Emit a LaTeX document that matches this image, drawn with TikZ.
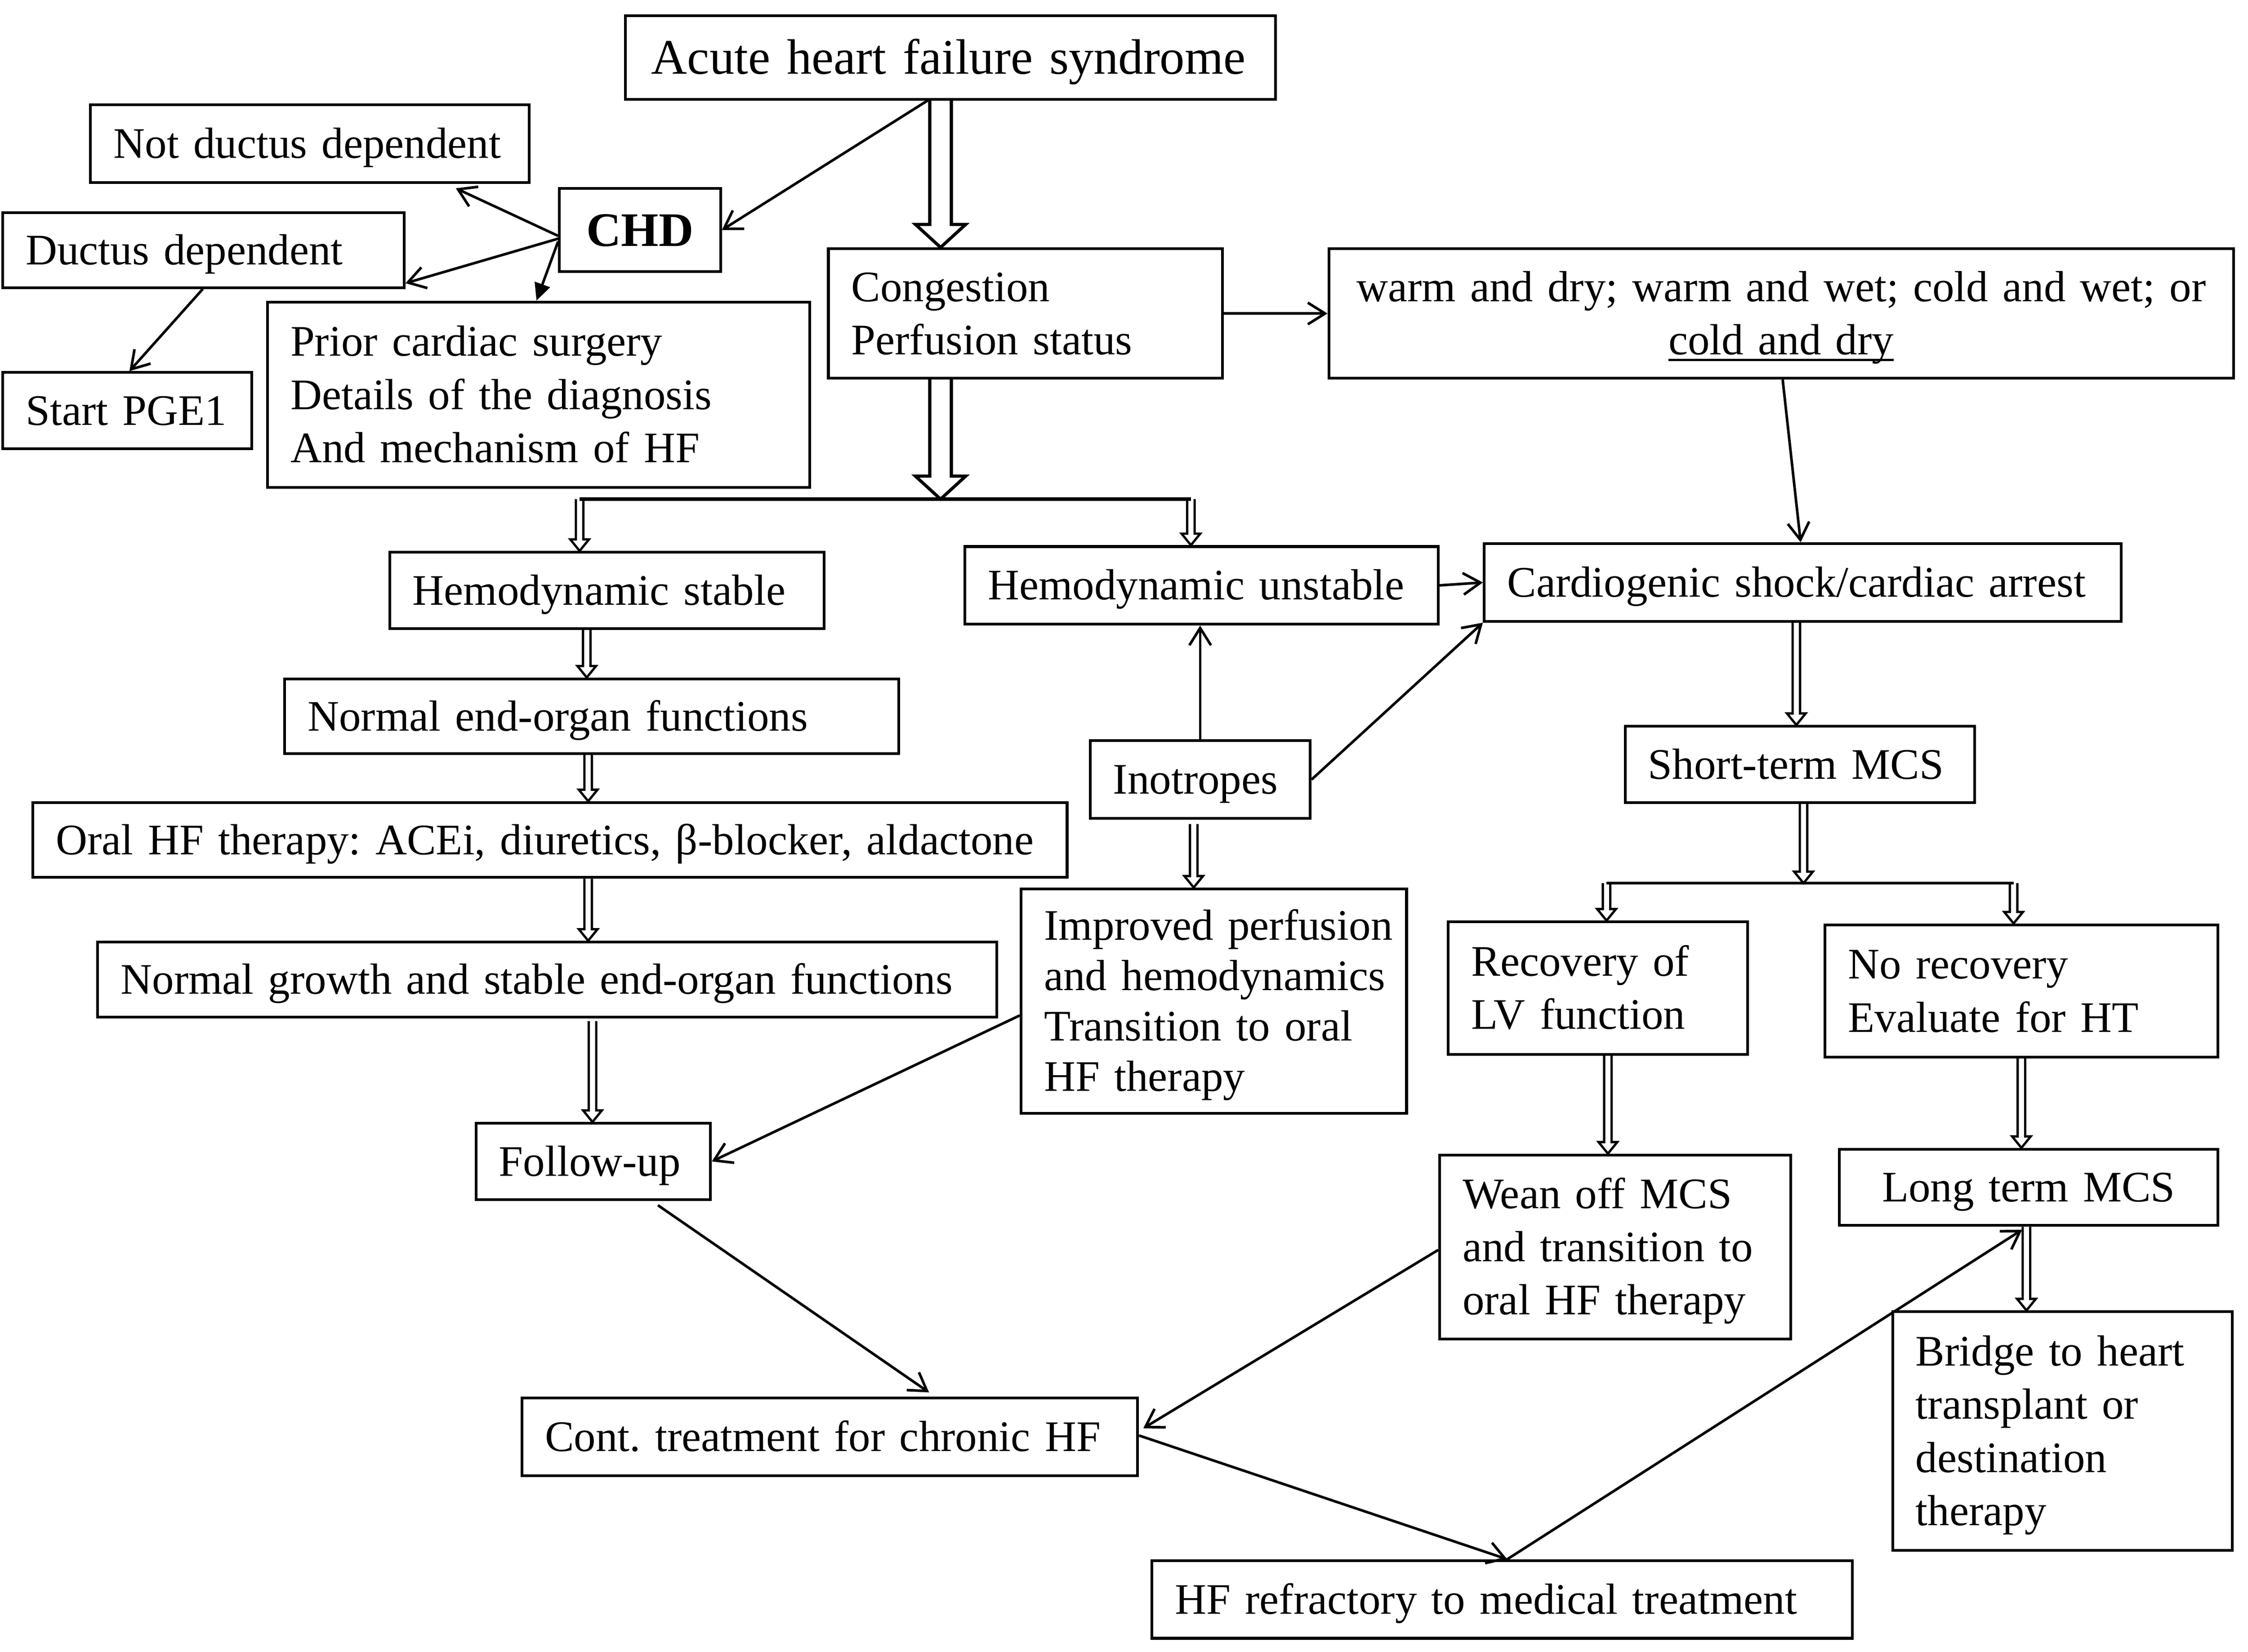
\documentclass[tikz,border=0pt]{standalone}
\usepackage{fontspec}
\setmainfont{Liberation Serif}
\usetikzlibrary{arrows.meta,calc}
\newcommand\myul[1]{\leavevmode\setbox0\hbox{#1}\rlap{\rule[-4.5pt]{\wd0}{1.4pt}}\box0}
\newcommand\bigarrow[2]{\draw[bigarr] let \p1=(#1),\p2=(#2) in (\x1-7.5pt,\y1) -- (\x1-7.5pt,\y2+16pt) -- (\x1-17.5pt,\y2+16pt) -- (\x1,\y2) -- (\x1+17.5pt,\y2+16pt) -- (\x1+7.5pt,\y2+16pt) -- (\x1+7.5pt,\y1);}
\newcommand\smallarrow[2]{\draw[smallarr] let \p1=(#1),\p2=(#2) in (\x1-2.6pt,\y1) -- (\x1-2.6pt,\y2+8pt) -- (\x1-6.5pt,\y2+8pt) -- (\x1,\y2) -- (\x1+6.5pt,\y2+8pt) -- (\x1+2.6pt,\y2+8pt) -- (\x1+2.6pt,\y1);}
\begin{document}
\frenchspacing
\begin{tikzpicture}[x=1pt,y=-1pt,
 box/.style={draw,line width=1.9pt,anchor=north west,inner xsep=16pt,inner ysep=0pt,align=left,font=\fontsize{30.3}{37}\selectfont,text height=20.1pt,text depth=0pt},
 arr/.style={line width=1.8pt,-{Straight Barb[length=12pt,width=15pt]}},
 farr/.style={line width=1.8pt,-{Triangle[length=12pt,width=11pt]}},
 bigarr/.style={line width=2.2pt,line join=miter},
 smallarr/.style={line width=1.6pt,line join=miter},
 bar/.style={line width=2.6pt},
 thinbar/.style={line width=2pt}]
\fill[white] (0,0) rectangle (1563,1148.3);
\useasboundingbox (0,0) rectangle (1563,1148.3);

\node[box,font=\fontsize{34.6}{42}\selectfont,text height=22.9pt,inner xsep=18pt,text width=416pt,minimum height=58pt] (acute) at (434,10) {\mbox{Acute heart failure syndrome}};
\node[box,text width=273pt,minimum height=54pt] (notd) at (62,72) {\mbox{Not ductus dependent}};
\node[box,font=\fontsize{33.5}{40}\selectfont\bfseries,text height=22.3pt,align=center,text width=80pt,minimum height=58pt] (chd) at (388,130) {CHD};
\node[box,text width=247pt,minimum height=52pt] (duct) at (1,147) {\mbox{Ductus dependent}};
\node[box,text width=141pt,minimum height=53pt] (pge) at (1,258) {\mbox{Start PGE1}};
\node[box,text width=345pt,minimum height=129pt,text depth=74pt] (prior) at (185,209) {\mbox{Prior cardiac surgery}\\\mbox{Details of the diagnosis}\\\mbox{And mechanism of HF}};
\node[box,text width=242pt,minimum height=90pt,text depth=37pt] (cong) at (575,172) {\mbox{Congestion}\\\mbox{Perfusion status}};
\node[box,align=center,text width=597pt,minimum height=90pt,text depth=37pt] (warm) at (923,172) {\mbox{warm and dry; warm and wet; cold and wet; or}\\\myul{cold and dry}};
\node[box,text width=270pt,minimum height=53pt] (hst) at (270,383) {\mbox{Hemodynamic stable}};
\node[box,text width=297pt,minimum height=54pt] (hun) at (670,379) {\mbox{Hemodynamic unstable}};
\node[box,text width=411pt,minimum height=54pt] (shock) at (1031,377) {\mbox{Cardiogenic shock/cardiac arrest}};
\node[box,text width=395pt,minimum height=52pt] (neof) at (197,471) {\mbox{Normal end-organ functions}};
\node[box,text width=121pt,minimum height=54pt] (ino) at (757,514) {\mbox{Inotropes}};
\node[box,text width=211pt,minimum height=53pt] (stm) at (1129,504) {\mbox{Short-term MCS}};
\node[box,text width=687pt,minimum height=52pt] (oral) at (22,557) {\mbox{Oral HF therapy: ACEi, diuretics, β-blocker, aldactone}};
\node[box,font=\fontsize{30.3}{35}\selectfont,text width=236pt,minimum height=156pt,text depth=105pt] (impr) at (709,617) {\mbox{Improved perfusion}\\\mbox{and hemodynamics}\\\mbox{Transition to oral}\\\mbox{HF therapy}};
\node[box,text width=176pt,minimum height=92pt,text depth=37pt] (recov) at (1006,640) {\mbox{Recovery of}\\\mbox{LV function}};
\node[box,text width=241pt,minimum height=92pt,text depth=37pt] (norec) at (1268,642) {\mbox{No recovery}\\\mbox{Evaluate for HT}};
\node[box,text width=593pt,minimum height=52pt] (ngrow) at (67,654) {\mbox{Normal growth and stable end-organ functions}};
\node[box,text width=131pt,minimum height=53pt] (fup) at (330,780) {\mbox{Follow-up}};
\node[box,text width=212pt,minimum height=128pt,text depth=74pt] (wean) at (1000,802) {\mbox{Wean off MCS}\\\mbox{and transition to}\\\mbox{oral HF therapy}};
\node[box,align=center,text width=231pt,minimum height=53pt] (ltm) at (1278,798) {\mbox{Long term MCS}};
\node[box,text width=204pt,minimum height=166pt,text depth=111pt] (bridge) at (1315,911) {\mbox{Bridge to heart}\\\mbox{transplant or}\\\mbox{destination}\\\mbox{therapy}};
\node[box,text width=396pt,minimum height=54pt] (cont) at (362,971) {\mbox{Cont. treatment for chronic HF}};
\node[box,text width=455pt,minimum height=54pt] (hfr) at (800,1084) {\mbox{HF refractory to medical treatment}};

\coordinate (jl) at (403,347);
\coordinate (jr) at (828,347);
\coordinate (kl) at (1117,614);
\coordinate (kr) at (1400,614);
\draw[bar] (jl) -- (jr);
\draw[thinbar] (kl) -- (kr);

\bigarrow{[xshift=-7pt]acute.south}{cong.north}
\bigarrow{[xshift=-59pt]cong.south}{jl}

\smallarrow{jl}{hst.north}
\smallarrow{jr}{hun.north}
\smallarrow{[xshift=-14pt]hst.south}{neof.north}
\smallarrow{[xshift=-2.5pt]neof.south}{oral.north}
\smallarrow{[xshift=26.5pt]oral.south}{ngrow.north}
\smallarrow{[xshift=31.5pt,yshift=-2pt]ngrow.south}{fup.north}
\smallarrow{[xshift=-4.5pt,yshift=-3pt]ino.south}{impr.north}
\smallarrow{[xshift=-4.5pt]shock.south}{stm.north}
\smallarrow{[xshift=2.5pt]stm.south}{kl}
\smallarrow{kl}{recov.north}
\smallarrow{kr}{norec.north}
\smallarrow{[xshift=7pt]recov.south}{wean.north}
\smallarrow{norec.south}{ltm.north}
\smallarrow{[xshift=-1.5pt]ltm.south}{bridge.north}

\draw[arr] ([xshift=-16pt]acute.south) -- (chd.east);
\draw[arr] ([yshift=-4pt]chd.west) -- ([xshift=-52pt,yshift=-3pt]notd.south east);
\draw[arr] ([yshift=-6pt]chd.west) -- ([yshift=4pt]duct.south east);
\draw[farr] ([yshift=-8pt]chd.west) -- ([xshift=188pt]prior.north west);
\draw[arr] ([xshift=140pt]duct.south west) -- ([xshift=89pt]pge.north west);
\draw[arr] (cong.east) -- (warm.west);
\draw[arr] ([xshift=1pt]warm.south) -- ([xshift=-1.5pt]shock.north);
\draw[arr] (hun.east) -- (shock.west);
\draw[arr] (ino.north) -- (ino.north |- hun.south);
\draw[arr] (ino.east) -- (shock.south west);
\draw[arr] ([yshift=-10pt]impr.west) -- (fup.east);
\draw[arr] ([xshift=45pt,yshift=-3pt]fup.south) -- ([xshift=69pt,yshift=3pt]cont.north);
\draw[arr] ([yshift=-2pt]wean.west) -- ([xshift=3pt,yshift=6pt]cont.east);
\draw[arr] ([yshift=1pt]cont.east) -- ([xshift=3.5pt]hfr.north);
\draw[arr] ([xshift=3.5pt]hfr.north) -- ([xshift=-4.5pt,yshift=-2pt]ltm.south);
\end{tikzpicture}
\end{document}
